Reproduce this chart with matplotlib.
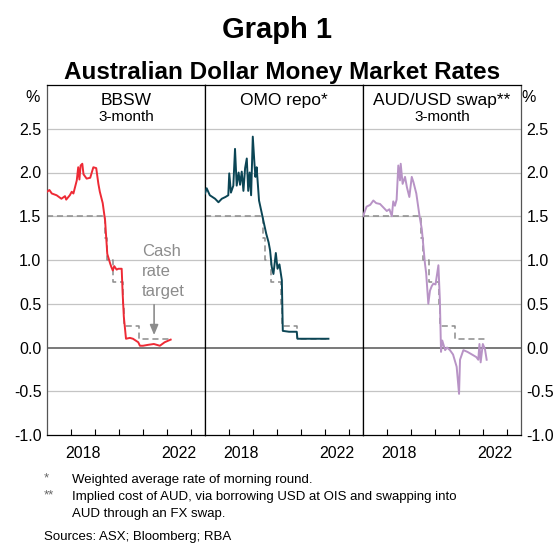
import matplotlib.pyplot as plt
import matplotlib.ticker as mticker

plt.rcParams['font.family'] = ['Liberation Sans', 'DejaVu Sans']

#-------------------------------------------------------------------------------
# Data (decimal years, per cent)
#-------------------------------------------------------------------------------
bbsw_t = [2017.00, 2017.10, 2017.20, 2017.40, 2017.60, 2017.75, 2017.80, 2017.95, 2018.03,
          2018.10, 2018.24, 2018.30, 2018.35, 2018.40, 2018.47, 2018.52, 2018.65, 2018.80,
          2018.93, 2019.05, 2019.14, 2019.20, 2019.32, 2019.42, 2019.51, 2019.63, 2019.68,
          2019.74, 2019.80, 2019.90, 2019.97, 2020.11, 2020.15, 2020.20, 2020.29, 2020.45,
          2020.58, 2020.80, 2020.87, 2021.00, 2021.20, 2021.45, 2021.70, 2021.90, 2022.15]
bbsw_v = [1.78, 1.80, 1.76, 1.74, 1.70, 1.73, 1.69, 1.74, 1.78,
          1.76, 1.91, 2.06, 1.92, 2.08, 2.10, 1.98, 1.93, 1.94,
          2.06, 2.05, 1.87, 1.78, 1.65, 1.45, 1.07, 0.96, 0.92,
          0.88, 0.93, 0.89, 0.90, 0.90, 0.62, 0.35, 0.10, 0.11,
          0.10, 0.06, 0.02, 0.02, 0.03, 0.04, 0.02, 0.06, 0.09]

omo_t = [2017.00, 2017.07, 2017.20, 2017.42, 2017.56, 2017.70, 2017.85, 2017.97, 2018.01,
         2018.08, 2018.18, 2018.25, 2018.32, 2018.40, 2018.46, 2018.53, 2018.60, 2018.67,
         2018.74, 2018.80, 2018.86, 2018.92, 2018.99, 2019.06, 2019.10, 2019.15, 2019.25,
         2019.36, 2019.43, 2019.55, 2019.65, 2019.71, 2019.78, 2019.85, 2019.95, 2020.02,
         2020.10, 2020.20, 2020.24, 2020.50, 2020.82, 2020.85, 2021.50, 2022.14]
omo_v = [1.76, 1.82, 1.74, 1.70, 1.66, 1.70, 1.72, 1.74, 1.99,
         1.77, 1.85, 2.27, 1.85, 2.00, 1.86, 2.01, 1.79, 2.05,
         2.16, 1.79, 2.00, 1.74, 2.41, 2.10, 1.95, 2.06, 1.68,
         1.54, 1.45, 1.30, 1.20, 1.11, 0.92, 0.84, 1.08, 0.90,
         0.95, 0.77, 0.19, 0.18, 0.18, 0.10, 0.10, 0.10]

swap_t = [2017.00, 2017.04, 2017.15, 2017.30, 2017.43, 2017.55, 2017.71, 2017.85, 2017.99,
          2018.10, 2018.20, 2018.26, 2018.33, 2018.40, 2018.47, 2018.54, 2018.57, 2018.65,
          2018.75, 2018.83, 2018.93, 2019.03, 2019.10, 2019.22, 2019.35, 2019.45, 2019.58,
          2019.63, 2019.72, 2019.79, 2019.86, 2019.93, 2020.02, 2020.14, 2020.20, 2020.25,
          2020.30, 2020.42, 2020.50, 2020.62, 2020.75, 2020.90, 2021.00, 2021.04, 2021.18,
          2021.35, 2021.60, 2021.72, 2021.80, 2021.85, 2021.90, 2021.99, 2022.08, 2022.15]
swap_v = [1.50, 1.53, 1.61, 1.63, 1.68, 1.65, 1.64, 1.60, 1.56,
          1.58, 1.50, 1.67, 1.62, 1.69, 2.08, 1.91, 2.10, 1.87,
          1.95, 1.83, 1.72, 1.95, 1.89, 1.76, 1.51, 1.35, 0.96,
          0.85, 0.50, 0.65, 0.70, 0.73, 0.72, 0.94, 0.55, -0.05,
          0.08, -0.03, 0.00, -0.03, -0.08, -0.22, -0.53, -0.14, -0.03,
          -0.05, -0.09, -0.11, -0.14, 0.04, -0.17, 0.04, -0.02, -0.14]

cash_t = [2017.00, 2019.42, 2019.50, 2019.75, 2020.17, 2020.21, 2020.84, 2022.10]
cash_v = [1.50, 1.25, 1.00, 0.75, 0.50, 0.25, 0.10, 0.10]

panel_titles = ['BBSW', 'OMO repo*', 'AUD/USD swap**']
panel_subs   = ['3-month', '', '3-month']
panel_colors = ['#ee2a35', '#0b4555', '#b893c6']
series       = [(bbsw_t, bbsw_v), (omo_t, omo_v), (swap_t, swap_v)]

yticks      = [-1.0, -0.5, 0.0, 0.5, 1.0, 1.5, 2.0, 2.5]
year_ticks  = [2018, 2019, 2020, 2021, 2022, 2023]
year_labels = ['2018', '2022']

#-------------------------------------------------------------------------------
# Figure
#-------------------------------------------------------------------------------
fig = plt.figure(figsize=(5.55, 5.44), dpi=100)
left, bottom, pw, ph = 47/555, 1 - 435/544, 158/555, 350/544
grey = '#8c8c8c'
fs   = 11.5

axes = []
for i in range(3):
    ax = fig.add_axes([left + i*pw, bottom, pw, ph])
    axes.append(ax)
    ax.set_xlim(2017.0, 2023.58)
    ax.set_ylim(-1.0, 3.0)
    for y in yticks[1:]:
        if y == 0:
            ax.axhline(0, color='#6e6e6e', lw=1.3, zorder=1)
        else:
            ax.axhline(y, color='#c4c4c4', lw=0.9, zorder=0)
    ax.plot(cash_t, cash_v, color=grey, lw=1.1, ls=(0, (4, 2.5)),
            drawstyle='steps-post', zorder=2)
    t, v = series[i]
    ax.plot(t, v, color=panel_colors[i], lw=1.4, zorder=3)

    ax.xaxis.set_major_locator(mticker.FixedLocator(year_ticks))
    ax.xaxis.set_major_formatter(mticker.NullFormatter())
    ax.xaxis.set_minor_locator(mticker.FixedLocator([int(y) + 0.5 for y in year_labels]))
    ax.xaxis.set_minor_formatter(mticker.FixedFormatter(year_labels))
    ax.tick_params(axis='x', which='major', direction='in', length=4.5, width=0.8)
    ax.tick_params(axis='x', which='minor', length=0, labelsize=fs, pad=8)
    ax.set_yticks(yticks)
    ax.yaxis.set_major_formatter(mticker.FormatStrFormatter('%.1f'))
    ax.tick_params(axis='y', length=0, labelsize=fs, pad=4)
    if i == 0:
        ax.tick_params(axis='y', labelleft=True, labelright=False)
    elif i == 1:
        ax.tick_params(axis='y', labelleft=False, labelright=False)
    else:
        ax.tick_params(axis='y', labelleft=False, labelright=True)
    for sp in ax.spines.values():
        sp.set_color('black')
        sp.set_linewidth(0.9)

    ax.text(0.5, 0.957, panel_titles[i], transform=ax.transAxes, ha='center',
            va='center', fontsize=12.5)
    if panel_subs[i]:
        ax.text(0.5, 0.909, panel_subs[i], transform=ax.transAxes, ha='center',
                va='center', fontsize=11)

axes[0].spines['left'].set_color('#555555')
axes[2].spines['right'].set_color('#555555')

# Cash rate annotation
axes[0].text(2020.96, 0.87, 'Cash\nrate\ntarget', color=grey, fontsize=12,
             ha='left', va='center', linespacing=1.4, multialignment='left')
axes[0].annotate('', xy=(2021.46, 0.11), xytext=(2021.46, 0.52),
                 arrowprops=dict(arrowstyle='-|>,head_width=0.25,head_length=0.6',
                                 color=grey, lw=1.2))

fig.text(33/555, 1 - 97/544, '%', fontsize=fs, ha='center', va='center')
fig.text(529/555, 1 - 97/544, '%', fontsize=fs, ha='center', va='center')

fig.text(0.5, 1 - 30/544, 'Graph 1', fontsize=21, fontweight='bold',
         ha='center', va='center')
fig.text(282/555, 1 - 72/544, 'Australian Dollar Money Market Rates', fontsize=17.5,
         fontweight='bold', ha='center', va='center')

# Footnotes
fn = 9.5
fig.text(44/555, 1 - 478/544, '*', fontsize=fn, color='#666666', va='center')
fig.text(72/555, 1 - 480/544, 'Weighted average rate of morning round.', fontsize=fn, va='center')
fig.text(44/555, 1 - 495/544, '**', fontsize=fn, color='#666666', va='center')
fig.text(72/555, 1 - 497/544, 'Implied cost of AUD, via borrowing USD at OIS and swapping into',
         fontsize=fn, va='center')
fig.text(72/555, 1 - 514/544, 'AUD through an FX swap.', fontsize=fn, va='center')
fig.text(44/555, 1 - 537/544, 'Sources: ASX; Bloomberg; RBA', fontsize=fn, va='center')

fig.savefig('out.png', dpi=100)
